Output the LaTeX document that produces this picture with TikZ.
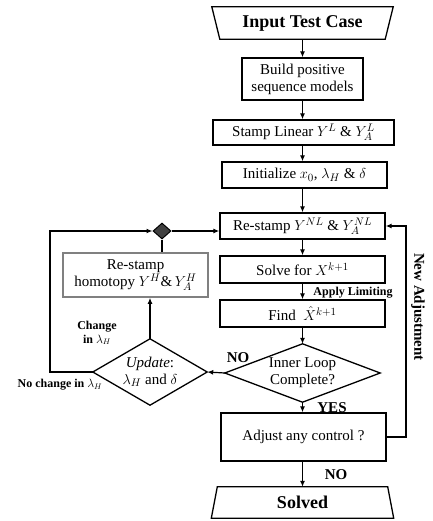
\documentclass[tikz,border=0pt]{standalone}
\usepackage{fontspec}
\setmainfont{Liberation Serif}
\usetikzlibrary{shapes.geometric,arrows.meta,calc}
\newcommand\fsmain{\fontsize{15}{17}\selectfont}
\newcommand\fslab{\bfseries\fontsize{12}{13.5}\selectfont}
\newcommand\fsbig{\bfseries\fontsize{18}{20}\selectfont}
\begin{document}
\begin{tikzpicture}[x=1pt,y=-1pt,
  box/.style={draw, line width=1.3pt, rectangle, inner sep=0pt, align=center, font=\fsmain},
  hbox/.style={box, draw={rgb,255:red,128;green,128;blue,128}, line width=1.6pt},
  dia/.style={rectangle, inner sep=0pt, align=center, font=\fsmain},
  diaborder/.style={line width=1.3pt},
  arr/.style={-{Latex[length=6pt,width=5pt]}, line width=1.2pt},
  ln/.style={line width=1.2pt},
  lab/.style={font=\fslab, align=center, inner sep=0pt},
  biglab/.style={font=\bfseries\fontsize{15}{17}\selectfont, inner sep=0pt}]
\useasboundingbox (0,0) rectangle (432,521);

% main column
\node[font=\fsbig, minimum width=165pt, minimum height=32pt, inner sep=0pt] (inp) at (302.5,23) {Input Test Case};
\draw[line width=1.3pt] ($(inp.north west)+(-8,0)$) -- ($(inp.north east)+(8,0)$) -- (inp.south east) -- (inp.south west) -- cycle;

\node[box, minimum width=121pt, minimum height=42pt] (build) at (302.5,79) {Build positive\\sequence models};
\node[box, minimum width=181pt, minimum height=25pt] (stamp) at (303.5,132.5) {Stamp Linear $Y^L$ \& $Y^L_A$};
\node[box, minimum width=165pt, minimum height=26pt] (init) at (304.5,175) {Initialize $x_0$, $\lambda_H$ \& $\delta$};
\node[box, minimum width=165pt, minimum height=26pt] (restamp) at (302.5,226) {Re-stamp $Y^{NL}$ \& $Y^{NL}_A$};
\node[box, minimum width=165pt, minimum height=27pt] (solve) at (302.5,269.5) {Solve for $X^{k+1}$};
\node[box, minimum width=165pt, minimum height=27pt] (find) at (302.5,313.5) {Find\ \ $\hat{X}^{k+1}$};
\node[dia, minimum width=155pt, minimum height=58pt] (inner) at (302.5,373) {Inner Loop\\Complete?};
\draw[diaborder] (inner.north) -- (inner.east) -- (inner.south) -- (inner.west) -- cycle;
\node[box, minimum width=165pt, minimum height=48pt] (adjust) at (303.5,437) {Adjust any control ?};

\node[font=\fsbig, minimum width=170pt, minimum height=31pt, inner sep=0pt] (solved) at (302.5,502.5) {Solved};
\draw[line width=1.3pt] (solved.north west) -- (solved.north east) -- ($(solved.south east)+(6,0)$) -- ($(solved.south west)+(-6,0)$) -- cycle;

% left loop
\node[draw, line width=1pt, fill={rgb,255:red,64;green,64;blue,64}, diamond, minimum width=18pt, minimum height=16pt, inner sep=0pt] (sd) at (162,231) {};
\node[hbox, minimum width=145pt, minimum height=44pt] (homo) at (135.5,275) {Re-stamp\\homotopy $Y^H$\&\,$Y^H_A$};
\node[dia, minimum width=114pt, minimum height=66pt] (update) at (150,372) {\textit{Update}:\\$\lambda_H$ and $\delta$};
\draw[diaborder] (update.north) -- (update.east) -- (update.south) -- (update.west) -- cycle;

% connectors main
\draw[arr] (inp.south -| build) -- (build.north);
\draw[arr] (build.south) -- (build.south |- stamp.north);
\draw[arr] (build.south |- stamp.south) -- (build.south |- init.north);
\draw[arr] (build.south |- init.south) -- (restamp.north);
\draw[arr] (restamp.south) -- (solve.north);
\draw[arr] (solve.south) -- (find.north);
\draw[arr] (find.south) -- (inner.north);
\draw[arr] (inner.south) -- (inner.south |- adjust.north);
\draw[arr] (inner.south |- adjust.south) -- (solved.north);

% loops
\draw[arr] (inner.west) -- (update.east);
\draw[arr] (update.north) -- (update.north |- homo.south);
\draw[ln] (sd.south) -- (sd.south |- homo.north);
\draw[arr] (update.west) -- (50,372) |- (sd.west);
\draw[arr] (sd.east) -- (sd.east -| restamp.west);
\coordinate (rt) at (406,437);
\draw[arr] (adjust.east) -- (rt) |- (restamp.east);

% labels
\node[lab] (al) at (353,293) {Apply Limiting};
\node[biglab, rotate=-90] (na) at (418,307) {New Adjustment};
\node[biglab] (no1) at (238,358) {NO};
\node[biglab] (yes) at (332,408) {YES};
\node[biglab] (no2) at (336,475) {NO};
\node[lab] (chg) at (97,333) {Change\\in $\lambda_H$};
\node[lab] (nochg) at (60,385) {No change in $\lambda_H$};
\end{tikzpicture}
\end{document}
